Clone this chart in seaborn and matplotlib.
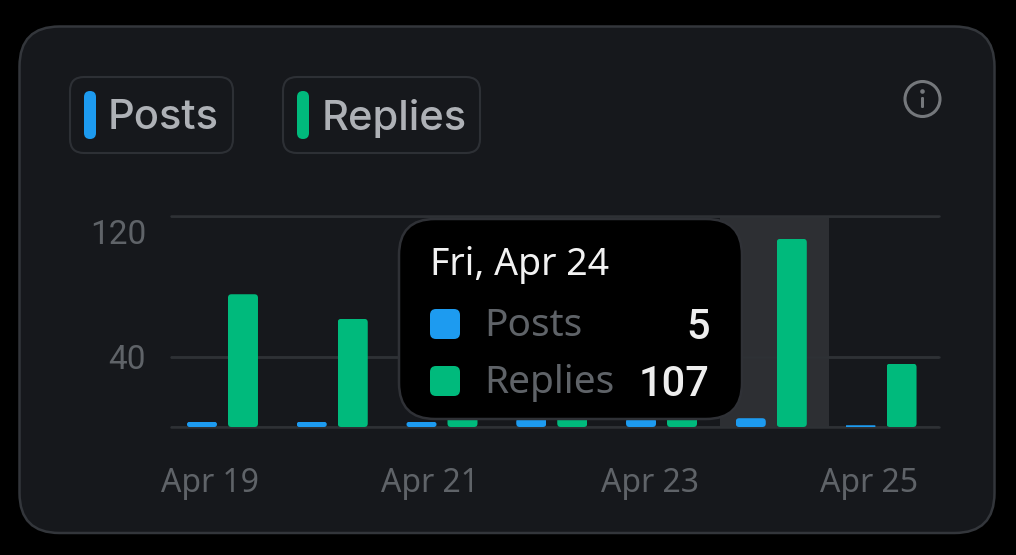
import matplotlib
matplotlib.use("Agg")
import matplotlib.pyplot as plt
from matplotlib.patches import FancyBboxPatch, Circle, Rectangle
from matplotlib.transforms import ScaledTranslation, IdentityTransform
import pandas as pd
import seaborn as sns

days = ["Apr 19", "Apr 20", "Apr 21", "Apr 22", "Apr 23", "Apr 24", "Apr 25"]
posts = [3, 3, 3, 5, 5, 5, 1]
replies = [75.5, 61.5, 40, 30, 35, 107, 36]
y_ticks = [0, 40, 120]
y_labels = ["", "40", "120"]
x_ticks = [0, 2, 4, 6]
x_labels = ["Apr 19", "Apr 21", "Apr 23", "Apr 25"]
tip_values = ["5", "107"]

BLUE, GREEN = "#1d9bf0", "#00ba7c"
CARD, EDGE, GRID = "#16181c", "#33363b", "#2e3135"
MUTED = "#5f6368"
W, H = 1016, 555

sns.set_theme(style="dark")
plt.rcParams["font.family"] = ["Noto Sans", "DejaVu Sans"]

df = pd.DataFrame({
    "day": days * 2,
    "metric": ["Posts"] * 7 + ["Replies"] * 7,
    "value": posts + replies,
})

fig = plt.figure(figsize=(W / 100, H / 100), dpi=100, facecolor="black")


def overlay(z):
    a = fig.add_axes([0, 0, 1, 1], zorder=z)
    a.set_xlim(0, W)
    a.set_ylim(H, 0)
    a.axis("off")
    a.patch.set_alpha(0)
    return a


def rbox(a, x0, y0, x1, y1, r, fc, ec="none", lw=0, z=2):
    p = FancyBboxPatch((x0, y0), x1 - x0, y1 - y0,
                       boxstyle=f"round,pad=0,rounding_size={r}",
                       fc=fc, ec=ec, lw=lw, zorder=z)
    a.add_patch(p)
    return p


# Card and header
bg = overlay(0)
rbox(bg, 19.5, 26.5, 994.5, 533, 40, CARD, EDGE, 1.8)
rbox(bg, 70, 77, 233, 153, 14, CARD, "#2d3035", 1.5)
rbox(bg, 84, 91, 96, 139, 6, BLUE)
bg.text(108, 114, "Posts", color="#aeb1b6", fontsize=30, va="center_baseline",
        weight=500, family=["Inter", "DejaVu Sans"])
rbox(bg, 283, 77, 480, 153, 14, CARD, "#2d3035", 1.5)
rbox(bg, 297, 91, 309, 139, 6, GREEN)
bg.text(322, 114, "Replies", color="#aeb1b6", fontsize=30, va="center_baseline",
        weight=500, family=["Inter", "DejaVu Sans"])
bg.add_patch(Circle((922.5, 99), 17.5, fc="none", ec="#75787c", lw=2.2, zorder=3))
bg.add_patch(Circle((922.5, 91.5), 2.3, fc="#75787c", ec="none", zorder=3))
rbox(bg, 921, 97, 924, 108, 1.2, "#75787c", z=3)

# Chart
ax = fig.add_axes([171 / W, 1 - 427 / H, (939 - 171) / W, (427 - 216) / H], zorder=1)
ax.patch.set_alpha(0)
sns.barplot(data=df, x="day", y="value", hue="metric", order=days,
            hue_order=["Posts", "Replies"], palette=[BLUE, GREEN],
            width=0.747, gap=0.268, saturation=1, linewidth=0, legend=False, ax=ax)
ax.set_xlim(-0.469, 6.528)
ax.set_ylim(0, 120)
ax.set_xlabel("")
ax.set_ylabel("")
for s in ax.spines.values():
    s.set_visible(False)
ax.set_axisbelow(True)
ax.yaxis.grid(True, color=GRID, lw=1.8)
ax.xaxis.grid(False)
for v in y_ticks:
    ax.axhline(v, color=GRID, lw=1.8, zorder=0.5, clip_on=False)
ax.axvspan(4.53, 5.525, color="#2d2f33", lw=0, zorder=0.4)
ax.set_yticks(y_ticks, y_labels)
ax.set_xticks(x_ticks, x_labels)
ax.tick_params(axis="both", length=0, labelcolor=MUTED, labelsize=23)
ax.tick_params(axis="y", pad=18)
ax.tick_params(axis="x", pad=28.5)
for lab in ax.get_xticklabels():
    lab.set_transform(lab.get_transform() + ScaledTranslation(-12 / 100, 0, fig.dpi_scale_trans))
for lab, val in zip(ax.get_yticklabels(), y_ticks):
    lab.set_family(["Roboto", "DejaVu Sans"])
    lab.set_fontsize(24)
    if val == 120:
        lab.set_transform(lab.get_transform() + ScaledTranslation(0, -16 / 100, fig.dpi_scale_trans))

# Rounded bar corners: clip each bar to a rounded outline of itself
fig.canvas.draw()
for bar in ax.patches:
    if not isinstance(bar, Rectangle) or bar.get_height() <= 0 or bar.get_width() > 0.5:
        continue
    e = bar.get_window_extent()
    r = min(3.5, e.height / 2)
    clip = FancyBboxPatch((e.x0, e.y0), e.width, e.height,
                          boxstyle=f"round,pad=0,rounding_size={r}",
                          transform=IdentityTransform())
    bar.set_clip_path(clip)

# Tooltip
tip = overlay(3)
rbox(tip, 399, 219, 742, 419, 36, "black", "#2f3136", 1.8)
tip.text(430, 261, "Fri, Apr 24", color="#f2f2f2", fontsize=27, va="center_baseline")
rbox(tip, 430, 309, 460, 339, 6, BLUE)
rbox(tip, 430, 366, 460, 396, 6, GREEN)
tip.text(484, 322, "Posts", color=MUTED, fontsize=28, va="center_baseline")
tip.text(484, 379, "Replies", color=MUTED, fontsize=28, va="center_baseline")
num_font = ["Roboto", "DejaVu Sans"]
tip.text(710, 323, tip_values[0], color="#eeeeee", fontsize=30, weight=500, ha="right",
         va="center_baseline", family=num_font)
tip.text(710, 380, tip_values[1], color="#eeeeee", fontsize=30, weight=500, ha="right",
         va="center_baseline", family=num_font)

fig.savefig("out.png", dpi=100, facecolor="black")
